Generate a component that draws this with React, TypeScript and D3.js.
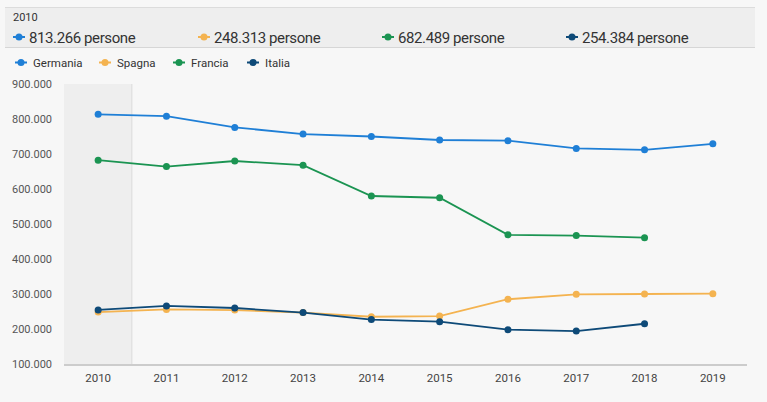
import { useEffect, useRef } from 'react';
import * as d3 from 'd3';

const years = ['2010', '2011', '2012', '2013', '2014', '2015', '2016', '2017', '2018', '2019'];
const countries = ['Germania', 'Spagna', 'Francia', 'Italia'];
const colors = ['#1f7fd6', '#f4b350', '#1b9452', '#0e4a78'];

const germania = [813266, 808000, 776000, 757000, 750000, 740000, 738000, 716000, 712000, 729000];
const spagna = [248313, 256000, 254000, 247000, 235000, 237000, 285000, 299000, 300000, 301000];
const francia = [682489, 664000, 680000, 668000, 580000, 575000, 469000, 467000, 461000, null];
const italia = [254384, 266000, 260000, 247000, 227000, 221000, 198000, 194000, 215000, null];

const yTicks = [100000, 200000, 300000, 400000, 500000, 600000, 700000, 800000, 900000];
const selectedYear = '2010';

const fmt = (v: number) => d3.format(',')(v).replace(/,/g, '.');

const App = () => {
  const svgRef = useRef<SVGSVGElement>(null);

  useEffect(() => {
    const width = 767;
    const height = 402;
    const font = 'Roboto, "Noto Sans", sans-serif';
    const series = [germania, spagna, francia, italia];

    const svg = d3.select(svgRef.current);
    svg.selectAll('*').remove();
    svg.attr('width', width).attr('height', height).style('font-family', font);

    svg.append('rect').attr('width', width).attr('height', height).attr('fill', '#f7f7f7');

    // tooltip-like header with values for the selected year
    const idx = years.indexOf(selectedYear);
    const header = svg.append('g');
    header.append('rect')
      .attr('x', 5).attr('y', 7).attr('width', 750).attr('height', 41)
      .attr('fill', '#eeeeee');
    header.append('line').attr('x1', 5).attr('x2', 755).attr('y1', 7.5).attr('y2', 7.5)
      .attr('stroke', '#dcdcdc');
    header.append('line').attr('x1', 5).attr('x2', 755).attr('y1', 47.5).attr('y2', 47.5)
      .attr('stroke', '#d6d6d6');
    header.append('text').attr('x', 13).attr('y', 21)
      .attr('font-size', 11).attr('fill', '#333').text(selectedYear);

    const marker = (g: d3.Selection<SVGGElement, unknown, null, undefined>, x: number, y: number, c: string) => {
      g.append('line').attr('x1', x - 6).attr('x2', x + 6).attr('y1', y).attr('y2', y)
        .attr('stroke', c).attr('stroke-width', 2);
      g.append('circle').attr('cx', x).attr('cy', y).attr('r', 3.5).attr('fill', c);
    };

    const headerX = [19, 204, 388, 572];
    countries.forEach((c, i) => {
      const g = header.append('g');
      marker(g, headerX[i], 37, colors[i]);
      g.append('text').attr('x', headerX[i] + 10).attr('y', 42.5)
        .attr('font-size', 15).attr('letter-spacing', -0.4).attr('fill', '#333')
        .text(`${fmt(series[i][idx] as number)} persone`);
    });

    // legend
    const legendX = [21, 105, 179, 253];
    countries.forEach((c, i) => {
      const g = svg.append('g');
      marker(g, legendX[i], 62.5, colors[i]);
      g.append('text').attr('x', legendX[i] + 12).attr('y', 66.5)
        .attr('font-size', 11.5).attr('fill', '#333').text(c);
    });

    const x = d3.scaleBand().domain(years).range([64, 747]);
    const y = d3.scaleLinear().domain([100000, 900000]).range([364, 84]);
    const cx = (d: string) => (x(d) as number) + x.bandwidth() / 2;

    // highlighted year band
    svg.append('rect')
      .attr('x', x(selectedYear) as number).attr('y', y(900000))
      .attr('width', x.bandwidth()).attr('height', y(100000) - y(900000))
      .attr('fill', '#eeeeee');
    svg.append('line')
      .attr('x1', (x(selectedYear) as number) + x.bandwidth() - 0.5)
      .attr('x2', (x(selectedYear) as number) + x.bandwidth() - 0.5)
      .attr('y1', y(900000)).attr('y2', y(100000))
      .attr('stroke', '#dddddd');

    // y axis labels
    svg.append('g').selectAll('text').data(yTicks).enter().append('text')
      .attr('x', 52).attr('y', d => y(d) + 4)
      .attr('text-anchor', 'end').attr('font-size', 11).attr('fill', '#555')
      .text(d => fmt(d));

    // x axis
    svg.append('line').attr('x1', 64).attr('x2', 747).attr('y1', 365).attr('y2', 365)
      .attr('stroke', '#cccccc').attr('stroke-width', 2);
    svg.append('g').selectAll('text').data(years).enter().append('text')
      .attr('x', d => cx(d)).attr('y', 382)
      .attr('text-anchor', 'middle').attr('font-size', 11.5).attr('fill', '#444')
      .text(d => d);

    const line = d3.line<number | null>()
      .defined(d => d != null)
      .x((_, i) => cx(years[i]))
      .y(d => y(d as number));

    series.forEach((s, i) => {
      svg.append('path').datum(s)
        .attr('d', line)
        .attr('fill', 'none').attr('stroke', colors[i]).attr('stroke-width', 1.8);
      svg.append('g').selectAll('circle')
        .data(s.map((v, j) => ({ v, year: years[j] })).filter(d => d.v != null))
        .enter().append('circle')
        .attr('cx', d => cx(d.year)).attr('cy', d => y(d.v as number))
        .attr('r', 3.5).attr('fill', colors[i]);
    });
  }, []);

  return (
    <div style={{ position: 'absolute', left: 0, top: 0 }}>
      <svg ref={svgRef} style={{ display: 'block' }}></svg>
    </div>
  );
};

export default App;
